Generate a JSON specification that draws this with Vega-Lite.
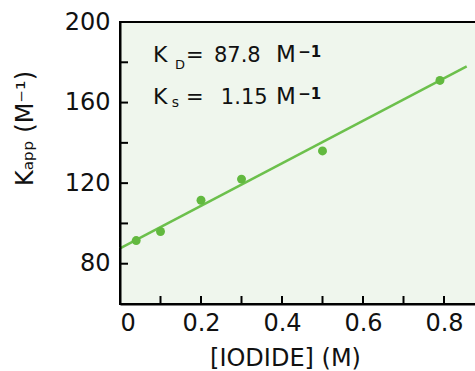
{
  "$schema": "https://vega.github.io/schema/vega-lite/v6.json",
  "width": 356,
  "height": 282,
  "autosize": {"type": "none"},
  "padding": {"left": 120, "top": 22, "right": 0, "bottom": 67},
  "background": "white",
  "config": {
    "font": "DejaVu Sans",
    "view": {"stroke": "black", "strokeWidth": 2, "fill": "#eff6ed"},
    "axis": {"grid": false, "domainColor": "black", "domainWidth": 2, "tickColor": "black", "tickWidth": 2, "tickSize": 8, "labelColor": "#111", "labelFontSize": 24, "titleFontSize": 24, "titleFontWeight": "normal", "titleColor": "#111"}
  },
  "datasets": {
    "pts": [
      {"iodide": 0.04, "kapp": 91.5},
      {"iodide": 0.1, "kapp": 96},
      {"iodide": 0.2, "kapp": 111.5},
      {"iodide": 0.3, "kapp": 122},
      {"iodide": 0.5, "kapp": 136},
      {"iodide": 0.79, "kapp": 171}
    ],
    "fit": [
      {"iodide": 0, "kapp": 87.6},
      {"iodide": 0.856, "kapp": 178}
    ],
    "xticks": [{"v": 0.1}, {"v": 0.2}, {"v": 0.3}, {"v": 0.4}, {"v": 0.5}, {"v": 0.6}, {"v": 0.7}, {"v": 0.8}],
    "yticks": [{"v": 80}, {"v": 100}, {"v": 120}, {"v": 140}, {"v": 160}, {"v": 180}],
    "one": [{}]
  },
  "layer": [
    {
      "data": {"name": "fit"},
      "mark": {"type": "line", "color": "#6cc04c", "strokeWidth": 2.5},
      "encoding": {
        "x": {"field": "iodide", "type": "quantitative", "scale": {"domain": [0, 0.879], "nice": false, "zero": false},
          "axis": {"orient": "bottom", "zindex": 1, "values": [0, 0.2, 0.4, 0.6, 0.8], "ticks": false, "labelExpr": "datum.value == 0 ? '0' : format(datum.value, '.1f')", "labelPadding": 7, "title": "[IODIDE]  (M)", "titleX": 165, "titleY": 61, "titleBaseline": "alphabetic", "titleAlign": "center"}},
        "y": {"field": "kapp", "type": "quantitative", "scale": {"domain": [60, 200], "nice": false, "zero": false},
          "axis": {"orient": "left", "zindex": 1, "values": [80, 120, 160, 200], "ticks": false, "labelPadding": 10, "title": "Kₐₚₚ (M⁻¹)", "titleX": -88, "titleY": 106, "titleBaseline": "alphabetic", "titleAlign": "center"}}
      }
    },
    {
      "data": {"name": "pts"},
      "mark": {"type": "point", "filled": true, "color": "#62b93f", "opacity": 1, "size": 80},
      "encoding": {
        "x": {"field": "iodide", "type": "quantitative"},
        "y": {"field": "kapp", "type": "quantitative"}
      }
    },
    {
      "data": {"name": "xticks"},
      "mark": {"type": "tick", "orient": "vertical", "color": "black", "size": 8, "thickness": 2, "opacity": 1, "yOffset": -4},
      "encoding": {
        "x": {"field": "v", "type": "quantitative"},
        "y": {"datum": 60, "type": "quantitative"}
      }
    },
    {
      "data": {"name": "yticks"},
      "mark": {"type": "tick", "orient": "horizontal", "color": "black", "size": 8, "thickness": 2, "opacity": 1, "xOffset": 4},
      "encoding": {
        "y": {"field": "v", "type": "quantitative"},
        "x": {"datum": 0, "type": "quantitative"}
      }
    },
    {"data": {"name": "one"}, "mark": {"type": "text", "text": "K", "fontSize": 22, "align": "left", "baseline": "alphabetic", "color": "#111"},
     "encoding": {"x": {"datum": 0.0815, "type": "quantitative"}, "y": {"datum": 179.9, "type": "quantitative"}}},
    {"data": {"name": "one"}, "mark": {"type": "text", "text": "D", "fontSize": 13, "align": "left", "baseline": "alphabetic", "color": "#111"},
     "encoding": {"x": {"datum": 0.136, "type": "quantitative"}, "y": {"datum": 176.9, "type": "quantitative"}}},
    {"data": {"name": "one"}, "mark": {"type": "text", "text": "=", "fontSize": 21, "align": "left", "baseline": "alphabetic", "color": "#111"},
     "encoding": {"x": {"datum": 0.163, "type": "quantitative"}, "y": {"datum": 179.9, "type": "quantitative"}}},
    {"data": {"name": "one"}, "mark": {"type": "text", "text": "87.8", "fontSize": 21, "align": "left", "baseline": "alphabetic", "color": "#111"},
     "encoding": {"x": {"datum": 0.232, "type": "quantitative"}, "y": {"datum": 179.9, "type": "quantitative"}}},
    {"data": {"name": "one"}, "mark": {"type": "text", "text": "M", "fontSize": 23, "align": "left", "baseline": "alphabetic", "color": "#111"},
     "encoding": {"x": {"datum": 0.385, "type": "quantitative"}, "y": {"datum": 179.9, "type": "quantitative"}}},
    {"data": {"name": "one"}, "mark": {"type": "text", "text": "−1", "fontSize": 15, "fontWeight": "bold", "align": "left", "baseline": "alphabetic", "color": "#111"},
     "encoding": {"x": {"datum": 0.44, "type": "quantitative"}, "y": {"datum": 182.6, "type": "quantitative"}}},
    {"data": {"name": "one"}, "mark": {"type": "text", "text": "K", "fontSize": 22, "align": "left", "baseline": "alphabetic", "color": "#111"},
     "encoding": {"x": {"datum": 0.0815, "type": "quantitative"}, "y": {"datum": 159.2, "type": "quantitative"}}},
    {"data": {"name": "one"}, "mark": {"type": "text", "text": "s", "fontSize": 14, "align": "left", "baseline": "alphabetic", "color": "#111"},
     "encoding": {"x": {"datum": 0.128, "type": "quantitative"}, "y": {"datum": 157.6, "type": "quantitative"}}},
    {"data": {"name": "one"}, "mark": {"type": "text", "text": "=", "fontSize": 21, "align": "left", "baseline": "alphabetic", "color": "#111"},
     "encoding": {"x": {"datum": 0.163, "type": "quantitative"}, "y": {"datum": 159.2, "type": "quantitative"}}},
    {"data": {"name": "one"}, "mark": {"type": "text", "text": "1.15", "fontSize": 21, "align": "left", "baseline": "alphabetic", "color": "#111"},
     "encoding": {"x": {"datum": 0.249, "type": "quantitative"}, "y": {"datum": 159.2, "type": "quantitative"}}},
    {"data": {"name": "one"}, "mark": {"type": "text", "text": "M", "fontSize": 23, "align": "left", "baseline": "alphabetic", "color": "#111"},
     "encoding": {"x": {"datum": 0.385, "type": "quantitative"}, "y": {"datum": 159.2, "type": "quantitative"}}},
    {"data": {"name": "one"}, "mark": {"type": "text", "text": "−1", "fontSize": 15, "fontWeight": "bold", "align": "left", "baseline": "alphabetic", "color": "#111"},
     "encoding": {"x": {"datum": 0.44, "type": "quantitative"}, "y": {"datum": 162, "type": "quantitative"}}}
  ]
}
